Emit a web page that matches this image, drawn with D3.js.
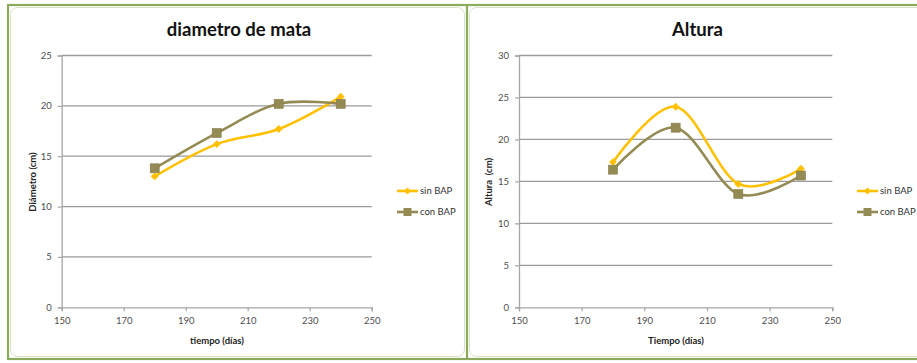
<!DOCTYPE html>
<html>
<head>
<meta charset="utf-8">
<script src="https://cdn.jsdelivr.net/npm/d3@7"></script>
<style>
  html, body { margin: 0; padding: 0; background: #fff; }
  svg { display: block; }
  text { font-family: Lato, "Open Sans", "Liberation Sans", sans-serif; }
</style>
</head>
<body>
<svg id="chart" width="917" height="363"></svg>
<script>
// Sampling days (x values)
const days = [180, 200, 220, 240];
const xTicks = [150, 170, 190, 210, 230, 250];
const seriesNames = ["sin BAP", "con BAP"];

// Crown diameter (cm)
const diamSinBAP = [13.0, 16.2, 17.7, 20.9];
const diamConBAP = [13.8, 17.3, 20.2, 20.2];
const diamTicks = [0, 5, 10, 15, 20, 25];

// Plant height (cm)
const altSinBAP = [17.3, 23.9, 14.7, 16.5];
const altConBAP = [16.4, 21.4, 13.5, 15.7];
const altTicks = [0, 5, 10, 15, 20, 25, 30];

const colors = { "sin BAP": "#ffc000", "con BAP": "#948a54" };
const frameGreen = "#8bab5a";

const svg = d3.select("#chart");

// Outer frame and panel divider
svg.append("rect").attr("x", 8).attr("y", 5).attr("width", 930).attr("height", 354)
  .attr("fill", "none").attr("stroke", frameGreen).attr("stroke-width", 2.2);
svg.append("line").attr("x1", 467).attr("x2", 467).attr("y1", 5).attr("y2", 359)
  .attr("stroke", frameGreen).attr("stroke-width", 2.2);
// Inner rounded chart areas
svg.append("rect").attr("x", 10.5).attr("y", 7.5).attr("width", 454).attr("height", 349).attr("rx", 7)
  .attr("fill", "none").attr("stroke", "#d6e2c4").attr("stroke-width", 1);
svg.append("rect").attr("x", 469.5).attr("y", 7.5).attr("width", 460).attr("height", 349).attr("rx", 7)
  .attr("fill", "none").attr("stroke", "#d6e2c4").attr("stroke-width", 1);

function drawPanel(cfg) {
  const g = svg.append("g");
  const x = d3.scaleLinear().domain([150, 250]).range([cfg.x0, cfg.x1]);
  const y = d3.scaleLinear().domain([0, d3.max(cfg.yTicks)]).range([307.3, 55.5]);

  // Horizontal gridlines
  g.append("g").selectAll("line").data(cfg.yTicks.filter(t => t > 0)).join("line")
    .attr("x1", cfg.x0).attr("x2", cfg.x1)
    .attr("y1", d => y(d)).attr("y2", d => y(d))
    .attr("stroke", "#9a9a9a").attr("stroke-width", 1.3);

  // Axes
  const yAxis = d3.axisLeft(y).tickValues(cfg.yTicks).tickSize(4).tickPadding(6);
  const gy = g.append("g").attr("transform", `translate(${cfg.x0},0)`).call(yAxis);
  const xAxis = d3.axisBottom(x).tickValues(xTicks).tickSize(4).tickPadding(6);
  const gx = g.append("g").attr("transform", `translate(0,${y(0)})`).call(xAxis);
  [gx, gy].forEach(a => {
    a.select(".domain").attr("stroke", "#a6a6a6").attr("stroke-width", 1.3);
    a.selectAll(".tick line").attr("stroke", "#a6a6a6").attr("stroke-width", 1.2);
    a.selectAll(".tick text").attr("fill", "#4d4d4d").attr("font-size", 9.5);
  });

  // Titles
  g.append("text").attr("x", cfg.titleX).attr("y", 36).attr("text-anchor", "middle")
    .attr("font-size", 18.5).attr("font-weight", "bold").attr("fill", "#111")
    .text(cfg.title);
  g.append("text").attr("x", cfg.xTitleX).attr("y", 344)
    .attr("text-anchor", "middle").attr("font-size", 9.5).attr("font-weight", "bold").attr("fill", "#222")
    .text(cfg.xTitle);
  g.append("text").attr("transform", `translate(${cfg.yTitleX},182) rotate(-90)`)
    .attr("text-anchor", "middle").attr("font-size", 9.5).attr("font-weight", "bold").attr("fill", "#222")
    .attr("xml:space", "preserve")
    .text(cfg.yTitle);

  // Smoothed series lines with markers
  const line = d3.line().x(d => x(d[0])).y(d => y(d[1])).curve(d3.curveCatmullRom.alpha(0));
  const series = [
    { name: "sin BAP", vals: cfg.sin },
    { name: "con BAP", vals: cfg.con }
  ];
  series.forEach(s => {
    const pts = days.map((d, i) => [d, s.vals[i]]);
    g.append("path").datum(pts).attr("d", line)
      .attr("fill", "none").attr("stroke", colors[s.name]).attr("stroke-width", 2.6);
  });
  series.forEach(s => {
    const pts = days.map((d, i) => [d, s.vals[i]]);
    if (s.name === "sin BAP") {
      g.append("g").selectAll("path").data(pts).join("path")
        .attr("transform", d => `translate(${x(d[0])},${y(d[1])})`)
        .attr("d", d3.symbol(d3.symbolDiamond2, 40)())
        .attr("fill", colors[s.name]);
    } else {
      g.append("g").selectAll("rect").data(pts).join("rect")
        .attr("x", d => x(d[0]) - 4.5).attr("y", d => y(d[1]) - 4.5)
        .attr("width", 9).attr("height", 9)
        .attr("fill", colors[s.name]).attr("stroke", "#857b48").attr("stroke-width", 0.6);
    }
  });

  // Legend
  const lg = g.append("g").attr("transform", `translate(${cfg.legendX},0)`);
  seriesNames.forEach((n, i) => {
    const ly = 191 + i * 21;
    lg.append("line").attr("x1", 0).attr("x2", 21).attr("y1", ly).attr("y2", ly)
      .attr("stroke", colors[n]).attr("stroke-width", 2.6);
    if (n === "sin BAP") {
      lg.append("path").attr("transform", `translate(10.5,${ly})`)
        .attr("d", d3.symbol(d3.symbolDiamond2, 30)()).attr("fill", colors[n]);
    } else {
      lg.append("rect").attr("x", 6.5).attr("y", ly - 4).attr("width", 8).attr("height", 8)
        .attr("fill", colors[n]);
    }
    lg.append("text").attr("x", 23).attr("y", ly + 3.3).attr("font-size", 9.5).attr("fill", "#333")
      .text(n);
  });
}

drawPanel({
  x0: 61.7, x1: 371.7, yTicks: diamTicks,
  sin: diamSinBAP, con: diamConBAP,
  title: "diametro de mata", titleX: 239,
  xTitle: "tiempo (días)", xTitleX: 217,
  yTitle: "Diámetro (cm)", yTitleX: 36,
  legendX: 397
});

drawPanel({
  x0: 519, x1: 832.3, yTicks: altTicks,
  sin: altSinBAP, con: altConBAP,
  title: "Altura", titleX: 697.5,
  xTitle: "Tiempo (días)", xTitleX: 676,
  yTitle: "Altura  (cm)", yTitleX: 492,
  legendX: 857
});
</script>
</body>
</html>
